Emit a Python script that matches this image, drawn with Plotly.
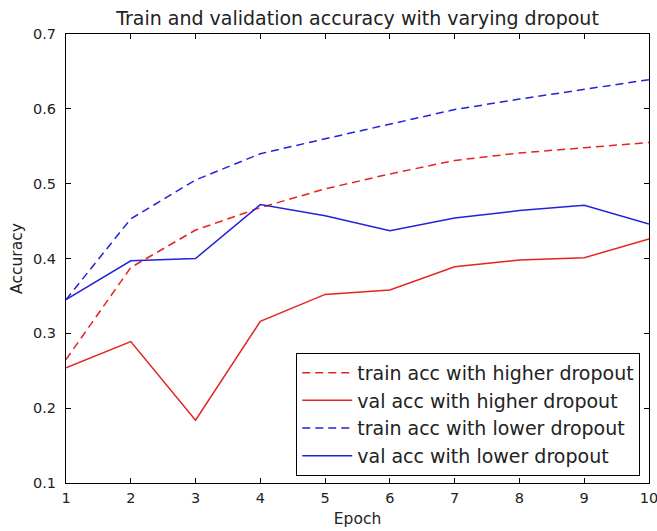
import plotly.graph_objects as go

epochs = [1, 2, 3, 4, 5, 6, 7, 8, 9, 10]
train_higher = [0.265, 0.388, 0.438, 0.468, 0.493, 0.513, 0.531, 0.541, 0.548, 0.555]
val_higher = [0.254, 0.289, 0.184, 0.316, 0.352, 0.358, 0.389, 0.398, 0.401, 0.426]
train_lower = [0.345, 0.453, 0.505, 0.540, 0.560, 0.579, 0.599, 0.613, 0.626, 0.639]
val_lower = [0.345, 0.397, 0.400, 0.472, 0.457, 0.437, 0.454, 0.464, 0.471, 0.446]

RED = "#e62222"
BLUE = "#2222d8"
DASH = "8px,5px"
FONT = "DejaVu Sans"

series = [
    ("train acc with higher dropout", train_higher, RED, DASH),
    ("val acc with higher dropout", val_higher, RED, "solid"),
    ("train acc with lower dropout", train_lower, BLUE, DASH),
    ("val acc with lower dropout", val_lower, BLUE, "solid"),
]

fig = go.Figure()
for i, (name, vals, color, dash) in enumerate(series):
    fig.add_trace(go.Scatter(
        x=epochs, y=vals, mode="lines", name=name, legendgroup=f"g{i}",
        line=dict(color=color, width=1.5, dash=dash),
    ))

fig.update_layout(
    width=657, height=531,
    margin=dict(l=66, r=8, t=34, b=48, autoexpand=False),
    paper_bgcolor="white", plot_bgcolor="white",
    font=dict(family=FONT, size=15, color="#222222"),
    title=dict(text="Train and validation accuracy with varying dropout",
               x=0.5, xref="paper", xanchor="center", y=1 - 18 / 531, yanchor="middle",
               yref="container", font=dict(size=19, family=FONT)),
    showlegend=True,
    legend=dict(x=0.985, y=0.016, xanchor="right", yanchor="bottom",
                bordercolor="black", borderwidth=1, bgcolor="white",
                font=dict(size=19, family=FONT), tracegroupgap=0,
                itemwidth=50),
)
fig.update_xaxes(
    range=[1, 10], tickvals=epochs, ticks="inside", ticklen=5,
    tickcolor="black", showline=True, linecolor="black", linewidth=1,
    mirror="ticks", showgrid=False, zeroline=False, automargin=False,
    ticklabeloverflow="allow", ticklabelstandoff=2,
    title=dict(text="Epoch", font=dict(size=15.5, family=FONT), standoff=7),
    tickfont=dict(size=14.5, family=FONT),
)
fig.update_yaxes(
    range=[0.1, 0.7], dtick=0.1, tickformat=".1f", ticks="inside", ticklen=5,
    tickcolor="black", showline=True, linecolor="black", linewidth=1,
    mirror="ticks", showgrid=False, zeroline=False, automargin=False,
    ticklabeloverflow="allow", ticklabelstandoff=6,
    title=dict(text="Accuracy", font=dict(size=15.5, family=FONT), standoff=6),
    tickfont=dict(size=14.5, family=FONT),
)

fig.write_html(
    "out.html",
    config={"displayModeBar": False},
    post_script="document.body.style.margin='0';document.body.style.overflow='hidden';",
)
